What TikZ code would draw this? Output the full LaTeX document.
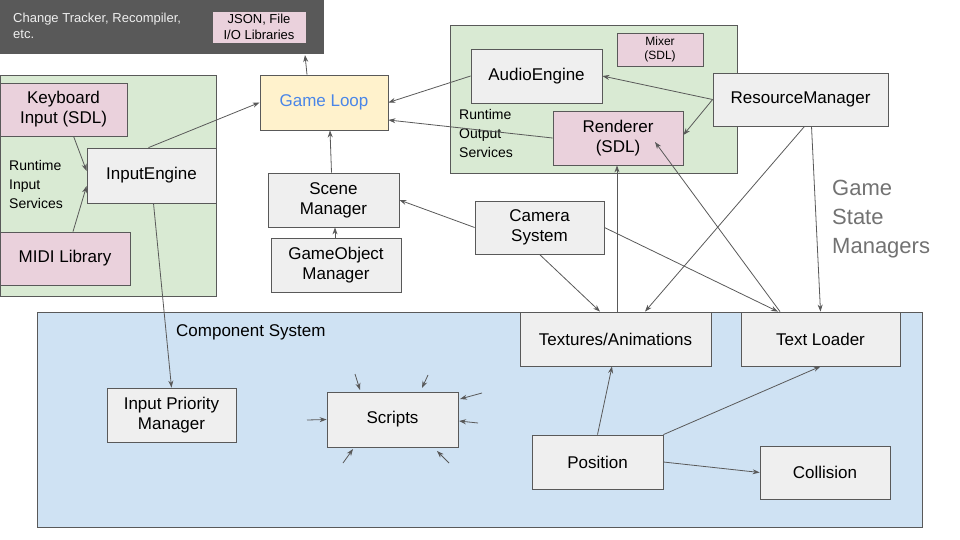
\documentclass[tikz,border=0pt]{standalone}
\usepackage{fontspec}
\setmainfont{Liberation Sans}
\usetikzlibrary{arrows.meta}
\definecolor{dark}{HTML}{595959}
\definecolor{pink}{HTML}{EAD1DC}
\definecolor{grn}{HTML}{D9EAD3}
\definecolor{blu}{HTML}{CFE2F3}
\definecolor{gry}{HTML}{EFEFEF}
\definecolor{yel}{HTML}{FFF2CC}
\definecolor{lnk}{HTML}{4A86E8}
\begin{document}
\begin{tikzpicture}[x=1pt,y=-1pt,
  box/.style={draw=dark,line width=0.8pt,align=center,inner sep=0pt,font=\fontsize{17}{20}\selectfont},
  arr/.style={draw=dark,line width=0.8pt,-{Stealth[length=7pt,width=5pt]}},
  lbl/.style={align=left,anchor=north west,inner sep=0pt,font=\fontsize{14}{19}\selectfont}]
\useasboundingbox (0,0) rectangle (960,540);
% containers
\fill[dark] (0,0) rectangle (324,54);
\node[lbl,text=gry,font=\fontsize{13}{16}\selectfont] (ct) at (13,13) {Change Tracker, Recompiler,\\etc.};
\node[box,fill=pink,minimum width=94pt,minimum height=32pt,font=\fontsize{13}{16}\selectfont] (json) at (259,27) {JSON, File\\I/O Libraries};
\draw[dark,line width=0.8pt,fill=grn] (0,75) rectangle (216,296);
\draw[dark,line width=0.8pt,fill=grn] (450,25) rectangle (737,173);
\draw[dark,line width=0.8pt,fill=blu] (37,312) rectangle (922,527);
\node[lbl] (ris) at (9,160) {Runtime\\Input\\Services};
\node[lbl] (ros) at (459,109) {Runtime\\Output\\Services};
\node[lbl,font=\fontsize{17}{20}\selectfont] (cs) at (176,324) {Component System};
\node[lbl,text=dark!85,font=\fontsize{22}{29}\selectfont] (gsm) at (832,180) {Game\\State\\Managers};
% boxes
\node[box,fill=pink,minimum width=127pt,minimum height=53pt] (kb) at (63.5,109.5) {Keyboard\\Input (SDL)};
\node[box,fill=gry,minimum width=129pt,minimum height=55pt] (ie) at (151.5,175.5) {InputEngine};
\node[box,fill=pink,minimum width=130pt,minimum height=53pt] (midi) at (65,258.5) {MIDI Library};
\node[box,fill=yel,text=lnk,minimum width=128pt,minimum height=55pt] (gl) at (324,102.5) {Game Loop};
\node[box,fill=gry,minimum width=131pt,minimum height=54pt] (ae) at (536.5,76) {AudioEngine};
\node[box,fill=pink,minimum width=86pt,minimum height=33pt,font=\fontsize{12}{14}\selectfont] (mix) at (660,49.5) {Mixer\\(SDL)};
\node[box,fill=pink,minimum width=130pt,minimum height=54pt] (ren) at (618,138) {Renderer\\(SDL)};
\node[box,fill=gry,minimum width=175pt,minimum height=53pt] (rm) at (800.5,99.5) {ResourceManager};
\node[box,fill=gry,minimum width=131pt,minimum height=54pt] (sm) at (333.5,200) {Scene\\Manager};
\node[box,fill=gry,minimum width=130pt,minimum height=54pt] (gom) at (336,265) {GameObject\\Manager};
\node[box,fill=gry,minimum width=129pt,minimum height=53pt] (cam) at (539.5,227.5) {Camera\\System};
\node[box,fill=gry,minimum width=191pt,minimum height=54pt] (tex) at (615.5,339) {Textures/Animations};
\node[box,fill=gry,minimum width=159pt,minimum height=54pt] (tl) at (820.5,339) {Text Loader};
\node[box,fill=gry,minimum width=129pt,minimum height=54pt] (ipm) at (171.5,415) {Input Priority\\Manager};
\node[box,fill=gry,minimum width=131pt,minimum height=55pt] (scr) at (392.5,419.5) {Scripts};
\node[box,fill=gry,minimum width=131pt,minimum height=54pt] (pos) at (597.5,462) {Position};
\node[box,fill=gry,minimum width=130pt,minimum height=53pt] (col) at (825,472.5) {Collision};
% connectors
\draw[arr] (gl.north -| 307,0) -- (305,55);
\draw[arr] (ie.north) ++(-3,0) -- (gl.west);
\draw[arr] (kb) -- (ie.west |- 0,171);
\draw[arr] (midi) -- (ie.west |- 0,186);
\draw[arr] (ie.south) ++(2,0) -- (ipm.north);
\draw[arr] (sm.north) ++(-2,0) -- (gl.south -| 330,0);
\draw[arr] (gom.north) ++(-1,0) -- (sm.south -| 335,0);
\draw[arr] (ae.west) -- (gl.east);
\draw[arr] (ren.west) -- (gl.east |- 0,120);
\draw[arr] (rm.west) -- (ae.east);
\draw[arr] (rm.west) -- (ren.east |- 0,135);
\draw[arr] (rm.south) ++(4,0) -- (tex.north -| 645,0);
\draw[arr] (rm.south) ++(11,0) -- (tl.north);
\draw[arr] (cam.west) -- (sm.east);
\draw[arr] (cam.south) -- (tex.north -| 600,0);
\draw[arr] (cam.east) -- (tl.north -| 778,0);
\draw[arr] (tex.north -| 617,0) -- (ren.south -| 617,0);
\draw[arr] (tl.north -| 780,0) -- (655,142);
\draw[arr] (pos.north) -- (tex.south -| 612,0);
\draw[arr] (pos.north east) -- (tl.south);
\draw[arr] (pos.east) -- (col.west);
% stray arrows at Scripts
\coordinate (s1) at (355,374); \coordinate (s2) at (428,375); \coordinate (s3) at (482,393);
\coordinate (s4) at (478,423); \coordinate (s5) at (307,420); \coordinate (s6) at (343,463);
\coordinate (s7) at (449,463);
\draw[arr] (s1) -- (360,390);
\draw[arr] (s2) -- (422,388);
\draw[arr] (s3) -- (460,399);
\draw[arr] (s4) -- (459,421);
\draw[arr] (s5) -- (scr.west);
\draw[arr] (s6) -- (353,449);
\draw[arr] (s7) -- (437,451);
\end{tikzpicture}
\end{document}
